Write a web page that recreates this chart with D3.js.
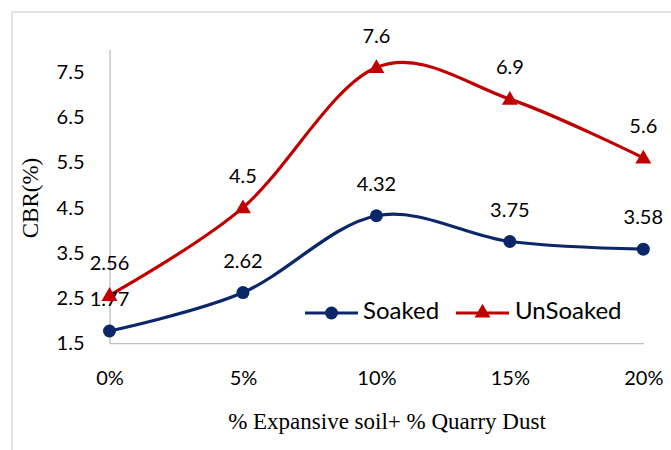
<!DOCTYPE html>
<html>
<head>
<meta charset="utf-8">
<script src="https://cdn.jsdelivr.net/npm/d3@7"></script>
<style>
  html, body { margin: 0; padding: 0; background: #fff; }
  svg { display: block; }
</style>
</head>
<body>
<svg id="chart" width="671" height="450"></svg>
<script>
const categories = ["0%", "5%", "10%", "15%", "20%"];
const soaked = [1.77, 2.62, 4.32, 3.75, 3.58];
const unsoaked = [2.56, 4.5, 7.6, 6.9, 5.6];
const yTicks = [1.5, 2.5, 3.5, 4.5, 5.5, 6.5, 7.5];
const seriesNames = ["Soaked", "UnSoaked"];
const xTitle = "% Expansive soil+ % Quarry Dust";
const yTitle = "CBR(%)";

const svg = d3.select("#chart");
const W = 671, H = 450;
const plot = { left: 109.5, right: 643.3, top: 49.4, bottom: 343.2 };

const x = d3.scalePoint().domain(categories).range([plot.left, plot.right]);
const y = d3.scaleLinear().domain([1.5, 8]).range([plot.bottom, plot.top]);

// outer border
svg.append("rect")
  .attr("x", 12).attr("y", 12)
  .attr("width", 700).attr("height", 500)
  .attr("fill", "#fff").attr("stroke", "#d9d9d9").attr("stroke-width", 1.5);

const sans = "Lato, 'Noto Sans', sans-serif";
const serif = "'Liberation Serif', 'DejaVu Serif', serif";

// axes
const yAxis = d3.axisLeft(y).tickValues(yTicks).tickSize(0).tickPadding(25)
  .tickFormat(d3.format(".1f"));
const gy = svg.append("g").attr("transform", `translate(${plot.left},0)`).call(yAxis);
gy.select(".domain").attr("stroke", "#bfbfbf").attr("stroke-width", 1.3);
gy.selectAll("text").attr("font-family", sans).attr("font-size", 20).attr("fill", "#000");

const xAxis = d3.axisBottom(x).tickSize(0).tickPadding(28);
const gx = svg.append("g").attr("transform", `translate(0,${plot.bottom})`).call(xAxis);
gx.select(".domain").attr("stroke", "#bfbfbf").attr("stroke-width", 1.3);
gx.selectAll("text").attr("font-family", sans).attr("font-size", 20).attr("fill", "#000");

// axis titles
svg.append("text")
  .attr("x", 387).attr("y", 424)
  .attr("text-anchor", "middle").attr("dominant-baseline", "middle")
  .attr("font-family", serif).attr("font-size", 23).attr("fill", "#000")
  .text(xTitle);

svg.append("text")
  .attr("transform", "translate(33,198) rotate(-90)")
  .attr("text-anchor", "middle").attr("dominant-baseline", "middle")
  .attr("font-family", serif).attr("font-size", 23).attr("fill", "#000")
  .text(yTitle);

const colors = ["#0c2769", "#c00000"];
const data = [soaked, unsoaked];
const line = d3.line()
  .x((d, i) => x(categories[i]))
  .y(d => y(d))
  .curve(d3.curveCardinal.tension(0));

const triangle = d3.symbol().type(d3.symbolTriangle).size(110);

data.forEach((vals, s) => {
  svg.append("path")
    .datum(vals)
    .attr("d", line)
    .attr("fill", "none")
    .attr("stroke", colors[s])
    .attr("stroke-width", 3.2)
    .attr("stroke-linecap", "round");
});

data.forEach((vals, s) => {
  const g = svg.append("g");
  if (s === 0) {
    g.selectAll("circle").data(vals).join("circle")
      .attr("cx", (d, i) => x(categories[i]))
      .attr("cy", d => y(d))
      .attr("r", 6.5)
      .attr("fill", colors[s]);
  } else {
    g.selectAll("path").data(vals).join("path")
      .attr("d", triangle)
      .attr("transform", (d, i) => `translate(${x(categories[i])},${y(d) + 1})`)
      .attr("fill", colors[s]);
  }
  g.selectAll("text").data(vals).join("text")
    .attr("x", (d, i) => x(categories[i]))
    .attr("y", d => y(d) - 30)
    .attr("text-anchor", "middle").attr("dominant-baseline", "middle")
    .attr("font-family", sans).attr("font-size", 20).attr("fill", "#000")
    .text(d => String(d));
});

// legend
const legendY = 313;
const legendItems = [
  { x0: 305, x1: 358, tx: 363 },
  { x0: 456, x1: 509, tx: 515 }
];
legendItems.forEach((it, s) => {
  svg.append("line")
    .attr("x1", it.x0).attr("x2", it.x1)
    .attr("y1", legendY).attr("y2", legendY)
    .attr("stroke", colors[s]).attr("stroke-width", 3.2);
  const mx = (it.x0 + it.x1) / 2;
  if (s === 0) {
    svg.append("circle").attr("cx", mx).attr("cy", legendY).attr("r", 6.5).attr("fill", colors[s]);
  } else {
    svg.append("path").attr("d", triangle)
      .attr("transform", `translate(${mx},${legendY})`).attr("fill", colors[s]);
  }
  svg.append("text")
    .attr("x", it.tx).attr("y", legendY)
    .attr("dominant-baseline", "middle")
    .attr("font-family", sans).attr("font-size", 24).attr("fill", "#000")
    .text(seriesNames[s]);
});
</script>
</body>
</html>
